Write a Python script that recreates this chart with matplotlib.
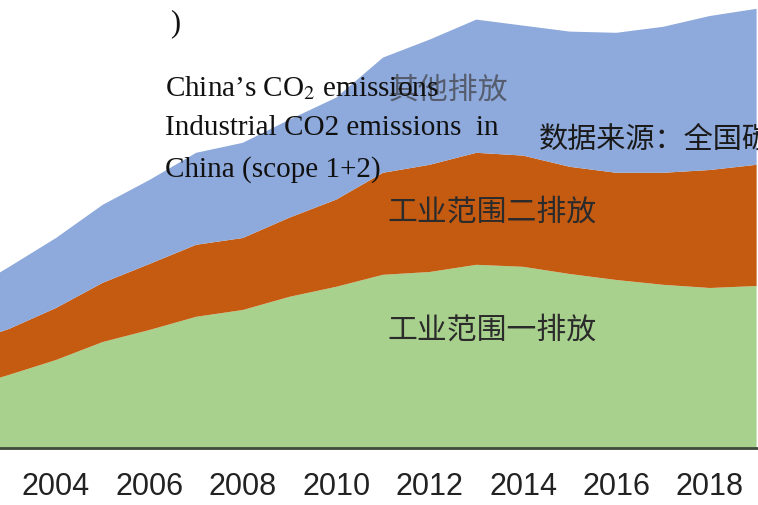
import numpy as np
from matplotlib import pyplot as plt

plt.rcParams['mathtext.fontset'] = 'stix'

#Rough units (Gt CO2)
years = [2002, 2003, 2004, 2005, 2006, 2007, 2008, 2009, 2010,
         2011, 2012, 2013, 2014, 2015, 2016, 2017, 2018, 2019]
scope1 = [1.48, 1.83, 2.20, 2.65, 2.95, 3.28, 3.45, 3.78, 4.03,
          4.33, 4.40, 4.58, 4.53, 4.35, 4.20, 4.08, 4.00, 4.05]
scope2 = [1.10, 1.15, 1.30, 1.48, 1.65, 1.80, 1.80, 1.98, 2.18,
          2.55, 2.68, 2.80, 2.78, 2.68, 2.68, 2.80, 2.95, 3.03]
other = [1.25, 1.55, 1.75, 1.95, 2.10, 2.30, 2.38, 2.45, 2.55,
         2.88, 3.13, 3.33, 3.25, 3.38, 3.50, 3.65, 3.85, 3.90]
tick_years = [2004, 2006, 2008, 2010, 2012, 2014, 2016, 2018]
layer_names = ['工业范围一排放', '工业范围二排放', '其他排放']
colors = ['#A9D18E', '#C55A11', '#8EA9DB']

W, H = 758, 505
fig = plt.figure(figsize=(W / 100, H / 100), dpi=100)
ax = fig.add_axes([0, (H - 448) / H, 1, 448 / H])

ax.stackplot(years, scope1, scope2, other, colors=colors, linewidth=0)
ax.set_xlim(2002.8, 2019.03)
ax.set_ylim(0, 11.2)

for side in ['top', 'left', 'right']:
    ax.spines[side].set_visible(False)
ax.spines['bottom'].set_color('#3f4a3a')
ax.spines['bottom'].set_linewidth(2)
ax.set_yticks([])
ax.set_xticks(tick_years)
ax.set_xticklabels([str(y) for y in tick_years], fontfamily='Liberation Sans',
                   fontsize=22, color='#222222')
ax.tick_params(axis='x', length=0, pad=17)

#helper: place text by pixel position of the reference
def put(x, y, s, **kw):
    fig.text(x / W, 1 - y / H, s, **kw)

cjk = ['Noto Sans CJK SC', 'DejaVu Sans']
put(387, 330, layer_names[0], family=cjk, fontsize=21.5, color='#2b2b2b', va='center')
put(387, 212, layer_names[1], family=cjk, fontsize=21.5, color='#2b2b2b', va='center')
put(389, 90, layer_names[2], family=cjk, fontsize=21.5, color='#4a4f5a', va='center', alpha=0.85)

serif = ['Liberation Serif', 'DejaVu Serif']
put(170, 24, ')', family=serif, fontsize=22, color='#111111', va='center')
put(165, 88, 'China\u2019s CO$_2$ emissions', family=serif, fontsize=21, color='#111111', va='center')
put(165, 128, 'Industrial CO2 emissions  in', family=serif, fontsize=21, color='#111111', va='center')
put(165, 170, 'China (scope 1+2)', family=serif, fontsize=21, color='#111111', va='center')
put(539, 140, '数据来源：全国碳', family=cjk, fontsize=21, color='#1a1a1a', va='center')

fig.savefig('out.png', dpi=100)
